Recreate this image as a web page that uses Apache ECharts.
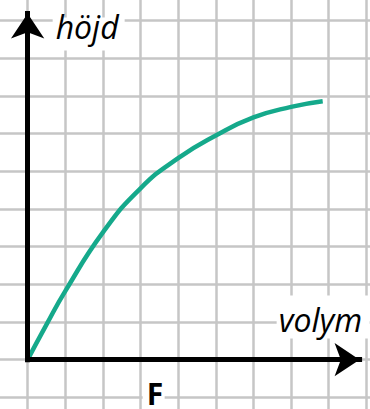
<!DOCTYPE html>
<html>
<head>
<meta charset="utf-8">
<script src="https://cdn.jsdelivr.net/npm/echarts@6/dist/echarts.min.js"></script>
<style>
  html, body { margin: 0; padding: 0; background: #fff; width: 370px; height: 409px; overflow: hidden; position: relative; }
  /* the squared paper runs past the window edges, so the chart box does too */
  #chart { position: absolute; left: -9.65px; top: -17.5px; width: 414.15px; height: 451.8px; }
</style>
</head>
<body>
<div id="chart"></div>
<script>
// curve (one square = one unit, origin at the axes corner)
const curveX = [0, 0.5, 1, 2, 3, 4, 5, 6, 7, 7.84];
const curveY = [0, 0.93, 1.82, 3.38, 4.55, 5.35, 5.95, 6.43, 6.71, 6.86];
// arrow tips of the two axes
const xArrowEnd = [8.82, 0];
const yArrowEnd = [0, 9.19];
const labelY = "höjd";
const labelX = "volym";
const labelBottom = "F";

// chart box offset against the window
const offX = 9.65, offY = 17.5;

const chart = echarts.init(document.getElementById("chart"), null, { renderer: "svg" });

chart.setOption({
  animation: false,
  backgroundColor: "#fff",
  grid: { left: 0, top: 0, right: 0, bottom: 0 },
  xAxis: {
    type: "value",
    min: -1,
    max: 10,
    interval: 1,
    axisLine: { show: false },
    axisTick: { show: false },
    axisLabel: { show: false },
    splitLine: { show: true, lineStyle: { color: "#c6c6c6", width: 2.5 } },
  },
  yAxis: {
    type: "value",
    min: -2,
    max: 10,
    interval: 1,
    axisLine: { show: false },
    axisTick: { show: false },
    axisLabel: { show: false },
    splitLine: { show: true, lineStyle: { color: "#c6c6c6", width: 2.5 } },
  },
  series: [
    {
      name: "axes",
      type: "line",
      data: [],
      z: 2,
      markLine: {
        silent: true,
        symbol: ["none", "arrow"],
        symbolSize: 25,
        label: { show: false },
        lineStyle: { color: "#000", width: 5, type: "solid", cap: "square" },
        data: [
          [{ coord: [0, 0] }, { coord: xArrowEnd }],
          [{ coord: [0, 0] }, { coord: yArrowEnd }],
        ],
      },
    },
    {
      name: "curve",
      type: "line",
      z: 3,
      smooth: 0.5,
      showSymbol: false,
      lineStyle: { color: "#15a98b", width: 4.5 },
      data: curveX.map((x, i) => [x, curveY[i]]),
    },
  ],
  graphic: [
    {
      type: "group",
      x: offX,
      y: offY,
      children: [
        { type: "rect", shape: { x: 53, y: 17, width: 72, height: 33 }, style: { fill: "#fff" }, z: 10 },
        {
          type: "text", x: 56, y: 26, z: 11,
          style: { text: labelY, font: "italic 32px 'Open Sans'", fill: "#000", verticalAlign: "middle" },
        },
        { type: "rect", shape: { x: 277, y: 295, width: 93, height: 43 }, style: { fill: "#fff" }, z: 10 },
        {
          type: "text", x: 279, y: 319, z: 11,
          style: { text: labelX, font: "italic 32px 'Open Sans'", fill: "#000", verticalAlign: "middle" },
        },
        { type: "rect", shape: { x: 143, y: 380, width: 22, height: 29 }, style: { fill: "#fff" }, z: 10 },
        {
          type: "text", x: 147, y: 393, z: 11,
          style: { text: labelBottom, font: "bold 30px 'Open Sans'", fill: "#000", verticalAlign: "middle" },
        },
      ],
    },
  ],
});
</script>
</body>
</html>
